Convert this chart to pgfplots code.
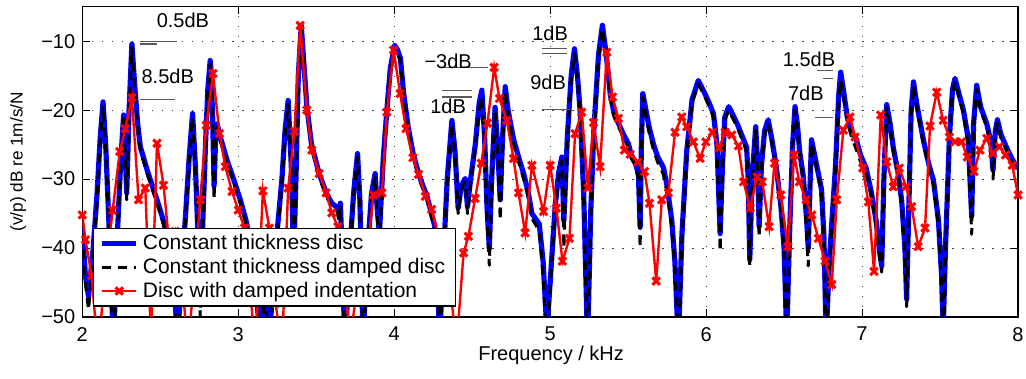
\documentclass[border=0pt]{standalone}
\usepackage{fontspec}
\setmainfont{Liberation Sans}
\usepackage{pgfplots}
\usepackage{pgfplotstable}
\pgfplotsset{compat=1.18}
\definecolor{mblue}{RGB}{0,0,255}
\definecolor{mred}{RGB}{255,0,0}

\pgfplotstableread{
f a b
2.000 -37 -38
2.020 -44 -45
2.040 -47 -49
2.070 -40 -41
2.095 -32 -32.5
2.115 -24 -24.5
2.133 -18.8 -19.3
2.150 -25 -25.5
2.170 -36 -37
2.200 -54 -56
2.225 -38 -39
2.245 -28 -28.5
2.265 -20.7 -21.2
2.285 -32 -33
2.300 -20 -20.5
2.318 -10.4 -10.9
2.335 -16 -16.5
2.355 -22 -22.5
2.372 -25.3 -25.8
2.420 -29 -29.5
2.479 -33 -33.5
2.520 -36 -36.5
2.560 -40 -40.5
2.590 -45 -46
2.610 -54 -56
2.635 -44 -45
2.660 -36 -36.5
2.685 -27 -27.5
2.707 -20.5 -21
2.725 -28 -28.5
2.745 -40 -41
2.756 -48 -50
2.770 -38 -39
2.790 -25 -25.5
2.805 -17 -17.5
2.820 -12.8 -13.3
2.835 -20 -20.5
2.845 -31 -33
2.855 -24 -24.5
2.865 -22 -22.5
2.880 -23.5 -24
2.927 -27.2 -27.7
2.970 -30 -30.5
3.013 -33 -33.5
3.050 -36 -36.5
3.100 -42 -43
3.140 -53 -55
3.170 -46 -47
3.200 -53 -55
3.240 -40 -41
3.280 -30 -30.5
3.300 -23 -23.5
3.320 -18.6 -19.1
3.340 -28 -29
3.355 -42 -44
3.370 -30 -30.5
3.385 -15 -15.5
3.404 -7.7 -8.2
3.420 -13 -13.5
3.440 -19.5 -20
3.470 -25 -25.5
3.520 -29.3 -29.8
3.568 -32.2 -32.7
3.600 -33.5 -34
3.633 -34.1 -34.6
3.645 -35 -36
3.655 -33.5 -34
3.665 -40 -42
3.685 -55 -57
3.710 -42 -43
3.740 -32 -32.5
3.765 -26.3 -26.8
3.780 -33 -34
3.800 -53 -55
3.830 -40 -41
3.855 -32 -32.5
3.878 -29.2 -29.7
3.890 -34 -35
3.905 -38 -40
3.930 -27 -27.5
3.953 -20 -20.5
3.975 -14 -14.5
4.002 -10.6 -11.1
4.020 -11.2 -11.7
4.040 -12.5 -13
4.060 -17.5 -18
4.090 -22.5 -23
4.120 -26.2 -26.7
4.160 -29.5 -30
4.210 -32.5 -33
4.260 -36.8 -37.3
4.280 -44 -45
4.290 -54 -56
4.310 -44 -45
4.340 -30 -30.5
4.370 -21.5 -22
4.390 -26 -26.5
4.410 -34.2 -35
4.430 -31 -31.5
4.455 -29.9 -30.4
4.470 -34 -35
4.490 -30 -30.5
4.520 -25 -25.5
4.545 -19 -19.8
4.562 -17.1 -18.1
4.580 -24 -25
4.595 -34 -36
4.610 -40 -42.5
4.625 -30 -31
4.647 -19.6 -20.3
4.665 -26 -27
4.680 -33 -36
4.695 -24 -25
4.712 -16.6 -17.3
4.730 -20 -20.7
4.766 -24.3 -25
4.800 -27 -27.7
4.830 -29.2 -30
4.860 -32 -32.7
4.883 -35 -35.7
4.930 -36.5 -37.5
4.955 -42 -44
4.979 -52 -55
5.000 -45 -46
5.032 -34 -34.5
5.055 -29 -29.5
5.075 -26.8 -27.3
5.088 -36 -40
5.110 -24 -24.5
5.135 -15 -15.6
5.156 -11.1 -11.8
5.175 -15 -15.6
5.192 -20 -20.6
5.215 -32 -33
5.240 -54 -56
5.260 -35 -36
5.280 -23 -23.5
5.310 -12 -12.5
5.335 -7.7 -8.2
5.360 -12 -12.5
5.385 -17.6 -18.1
5.410 -20.5 -21
5.440 -22 -22.5
5.470 -23.5 -24
5.502 -24.9 -25.4
5.520 -26.5 -27
5.545 -27.5 -28
5.566 -29.3 -30
5.577 -37 -40
5.585 -25 -25.5
5.594 -17.6 -18.1
5.610 -19.5 -20.2
5.635 -22.5 -23.3
5.662 -24.9 -25.7
5.690 -26.8 -27.6
5.726 -28.3 -29.3
5.750 -31 -32
5.780 -36 -37
5.800 -42 -43
5.822 -54 -56
5.845 -38 -39
5.876 -25.9 -26.4
5.910 -18.5 -19
5.950 -15.7 -16.2
5.990 -17.5 -18
6.020 -19 -19.5
6.047 -20.5 -21
6.070 -25 -26
6.090 -37.9 -40.5
6.105 -28 -29
6.120 -21 -21.5
6.145 -19.5 -20
6.200 -22 -22.5
6.260 -25.4 -26
6.270 -30 -31
6.280 -41.7 -42.5
6.295 -30 -31
6.318 -22.4 -22.9
6.330 -28 -29
6.340 -36.9 -38.5
6.355 -28 -28.5
6.375 -23 -23.5
6.398 -21.4 -21.9
6.420 -24 -24.5
6.450 -28.2 -28.7
6.480 -34 -34.5
6.500 -40 -41
6.517 -53 -55
6.535 -38 -39
6.555 -25 -25.5
6.570 -19.5 -20
6.585 -22 -22.5
6.600 -26 -26.5
6.623 -29.6 -30.1
6.645 -36 -38
6.655 -40 -42.6
6.665 -32 -33
6.676 -24.3 -24.8
6.700 -27 -27.5
6.740 -31.5 -32
6.755 -38 -39
6.770 -53 -55
6.790 -42 -43
6.830 -28 -28.5
6.850 -18 -18.8
6.863 -14.5 -15.6
6.880 -17 -17.8
6.905 -21 -21.5
6.934 -23.4 -24
6.960 -24 -25.5
6.990 -26.5 -27.5
7.026 -28.4 -29
7.060 -32 -32.5
7.090 -36 -37
7.110 -40 -41
7.126 -42.6 -43.5
7.140 -30 -30.5
7.158 -19.2 -19.7
7.180 -22 -22.5
7.200 -25.4 -26
7.230 -29 -29.5
7.254 -33.1 -33.8
7.275 -40 -41
7.286 -47.4 -48.5
7.300 -34 -35
7.315 -20 -20.5
7.330 -15.9 -16.4
7.350 -19 -19.5
7.394 -24.4 -25
7.430 -28 -28.5
7.458 -30.2 -30.8
7.490 -36 -37
7.510 -44 -45
7.520 -52 -55
7.535 -40 -41
7.560 -24 -24.5
7.580 -17 -17.5
7.596 -15.4 -15.9
7.620 -17.5 -18
7.650 -20 -20.5
7.680 -24 -25
7.703 -35.4 -38
7.715 -22 -22.5
7.735 -16.4 -16.9
7.760 -19.5 -20
7.800 -22 -22.5
7.825 -24.5 -25.5
7.840 -28.7 -30
7.855 -23 -23.5
7.868 -21.4 -21.9
7.890 -23.5 -24
7.928 -25.5 -26
7.960 -27 -27.5
8.000 -28.5 -29
}\tabAB

\pgfplotstableread{
f r
2.000 -35.2
2.020 -38.8
2.060 -44
2.100 -55
2.155 -42
2.195 -34.5
2.240 -26
2.276 -22.7
2.318 -18.2
2.361 -33
2.404 -31.3
2.440 -53
2.479 -24.8
2.521 -30.9
2.560 -40
2.596 -37.6
2.640 -44
2.675 -55
2.715 -45
2.756 -33
2.795 -22.2
2.838 -14.7
2.880 -23.4
2.917 -28.2
2.960 -31.8
3.000 -34.5
3.040 -37.1
3.080 -47
3.110 -55
3.158 -31.7
3.200 -37.1
3.240 -48
3.280 -55
3.320 -31.3
3.360 -23.1
3.397 -7.7
3.440 -20
3.472 -25.8
3.519 -29.2
3.564 -32
3.600 -34.9
3.639 -36.9
3.680 -45
3.720 -53
3.760 -46
3.800 -42
3.830 -40
3.867 -32.3
3.921 -32
3.953 -20.3
3.996 -11.3
4.038 -17.6
4.076 -22.7
4.120 -26.9
4.156 -29.3
4.200 -32.5
4.240 -34.4
4.280 -38
4.320 -42
4.360 -46
4.400 -54
4.445 -40.7
4.476 -38.3
4.519 -32.8
4.558 -27.7
4.598 -21.9
4.641 -13.8
4.675 -18.3
4.722 -21.5
4.765 -27
4.797 -32
4.840 -37.8
4.883 -28
4.957 -34.7
5.000 -28
5.040 -34.2
5.079 -41.9
5.124 -38.6
5.160 -23.4
5.203 -20.3
5.242 -31.3
5.278 -21.8
5.320 -28.2
5.363 -11.6
5.400 -18.1
5.438 -21.2
5.476 -25.8
5.513 -26.4
5.562 -27.5
5.605 -28.9
5.637 -33.5
5.680 -44.8
5.716 -33
5.758 -32
5.801 -23.2
5.844 -21
5.876 -22.4
5.918 -24.6
5.962 -27
5.998 -24.6
6.040 -23.2
6.083 -25.5
6.122 -23.2
6.165 -23.6
6.207 -25.2
6.240 -30.4
6.283 -34.2
6.326 -29.7
6.360 -30.4
6.404 -36.9
6.438 -27.7
6.479 -32.3
6.524 -39.8
6.564 -26.5
6.598 -30.4
6.641 -33
6.678 -35.2
6.720 -38.6
6.763 -41.9
6.806 -45.3
6.838 -33
6.880 -22.9
6.923 -21
6.955 -23.9
7.004 -28.4
7.040 -33.3
7.077 -43.4
7.120 -20.7
7.158 -27.5
7.200 -31.1
7.239 -28.4
7.282 -31.1
7.318 -34
7.360 -39.8
7.404 -37.1
7.436 -22.3
7.479 -17.4
7.520 -21.5
7.560 -23.9
7.596 -24.6
7.639 -24.6
7.675 -26.8
7.718 -28.9
7.756 -25.8
7.800 -24.1
7.838 -26.3
7.880 -25.3
7.920 -26.5
7.963 -28
8.000 -32.3
}\tabR

\begin{document}
\begin{tikzpicture}
\useasboundingbox (-41.15pt,-31pt) rectangle (471.85pt,158.5pt);
\begin{axis}[
  at={(0,0)}, anchor=south west,
  scale only axis, width=467.85pt, height=155.15pt,
  xmin=2, xmax=8, ymin=-50, ymax=-5,
  xtick={2,3,4,5,6,7,8},
  xticklabels={2,3,4,5,6,7,8},
  ytick={-50,-40,-30,-20,-10},
  yticklabels={−50,−40,−30,−20,−10},
  tick align=inside,
  major tick length=3.8pt,
  tick style={black, line width=0.5pt},
  axis line style={black, line width=0.6pt},
  grid=major,
  major grid style={black!75, line width=0.5pt, dash pattern=on 0.6pt off 4.4pt},
  font=\fontsize{10}{12}\selectfont,
  xticklabel style={yshift=-1.5pt},
  xlabel={Frequency / kHz},
  ylabel={(v/p) dB re 1m/s/N},
  xlabel style={at={(axis description cs:0.501,-0.1225)}, anchor=center},
  ylabel style={at={(axis description cs:-0.0684,0.5)}, anchor=center, font=\fontsize{8.6}{10}\selectfont},
  legend cell align=left,
  legend style={at={(0.0114,0.0332)}, anchor=south west, draw=black,
    line width=0.6pt, fill=white, font=\fontsize{10.5}{11.7}\selectfont,
    inner xsep=3pt, inner ysep=1pt, row sep=-1.2pt,
    /tikz/every even column/.append style={column sep=3pt}},
]
\addplot[mblue, line width=2.6pt, line join=round] table[x=f, y=a] {\tabAB};
\addlegendentry{Constant thickness disc}
\addplot[black, line width=1.5pt, dash pattern=on 4.5pt off 3.5pt, line join=round] table[x=f, y=b] {\tabAB};
\addlegendentry{Constant thickness damped disc}
\addplot[mred, line width=1.2pt, mark=x, mark size=2.6pt, mark options={solid, line width=1.5pt}] table[x=f, y=r] {\tabR};
\addlegendentry{Disc with damped indentation}

\begin{scope}[black!65, line width=0.6pt]
\draw (axis cs:2.372,-10.0) -- (axis cs:2.609,-10.0);
\draw (axis cs:2.372,-10.4) -- (axis cs:2.480,-10.4);
\draw (axis cs:2.372,-18.5) -- (axis cs:2.596,-18.5);
\draw (axis cs:4.295,-13.8) -- (axis cs:4.603,-13.8);
\draw (axis cs:4.306,-17.1) -- (axis cs:4.497,-17.1);
\draw (axis cs:4.306,-18.1) -- (axis cs:4.497,-18.1);
\draw (axis cs:4.947,-11.1) -- (axis cs:5.107,-11.1);
\draw (axis cs:4.947,-11.8) -- (axis cs:5.107,-11.8);
\draw (axis cs:4.947,-19.9) -- (axis cs:5.128,-19.9);
\draw (axis cs:6.708,-14.2) -- (axis cs:6.815,-14.2);
\draw (axis cs:6.750,-15.4) -- (axis cs:6.815,-15.4);
\draw (axis cs:6.698,-21.1) -- (axis cs:6.815,-21.1);
\end{scope}
\begin{scope}[every node/.style={font=\fontsize{10}{12}\selectfont, inner sep=0pt, anchor=center}]
\node at (axis cs:2.645,-7.0) {0.5dB};
\node at (axis cs:2.548,-15.1) {8.5dB};
\node at (axis cs:4.346,-12.9) {−3dB};
\node at (axis cs:4.346,-19.5) {1dB};
\node at (axis cs:5.000,-8.8) {1dB};
\node at (axis cs:4.987,-16.0) {9dB};
\node at (axis cs:6.660,-12.6) {1.5dB};
\node at (axis cs:6.640,-17.5) {7dB};
\end{scope}
\end{axis}
\end{tikzpicture}
\end{document}
